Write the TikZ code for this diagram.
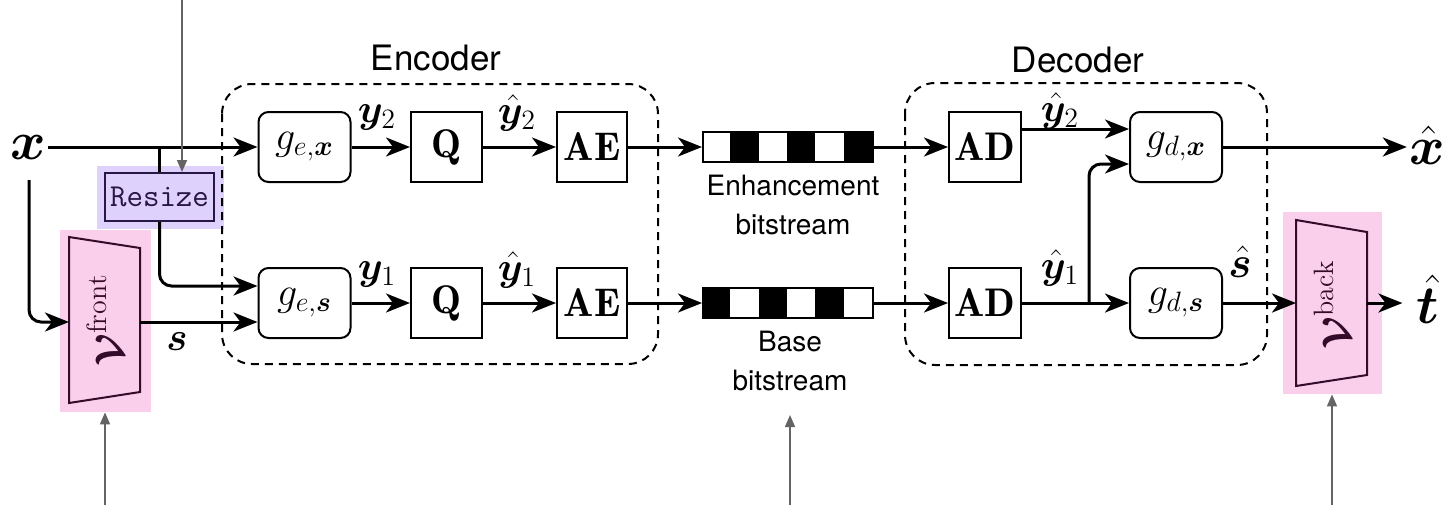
\RequirePackage{fix-cm}
\documentclass[tikz,border=0pt]{standalone}
\usepackage{fontspec}
\usepackage{amsmath,bm}
\usetikzlibrary{arrows.meta,calc}
\newfontfamily\heros{TeX Gyre Heros}
\newcommand\boxfnt{\fontsize{20}{23}\selectfont}
\newcommand\labfnt{\fontsize{20}{24}\selectfont}
\newcommand\bigfnt{\fontsize{27}{31}\selectfont}
\newcommand\grpfnt{\heros\fontsize{17.5}{20}\selectfont}
\newcommand\bitfnt{\heros\fontsize{14}{19.5}\selectfont}
\newcommand\ttfnt{\ttfamily\fontsize{16}{19}\selectfont}
\definecolor{pinkhl}{RGB}{250,207,236}
\definecolor{purphl}{RGB}{222,209,251}
\definecolor{trapc}{RGB}{50,12,42}
\definecolor{resc}{RGB}{40,22,70}
\definecolor{grayarr}{RGB}{100,100,100}
\tikzset{
  box/.style={draw, line width=1pt, minimum height=35pt, inner sep=0pt, font=\boxfnt},
  gbox/.style={box, rounded corners=5pt, minimum width=46pt},
  sqbox/.style={box, minimum width=35.5pt},
  bitbox/.style={draw, line width=1pt, minimum width=85pt, minimum height=15pt, inner sep=0pt},
  lab/.style={font=\labfnt, inner sep=0pt},
  biglab/.style={font=\bigfnt, inner sep=1pt},
  arr/.style={line width=1.5pt, -{Stealth[length=12pt,width=9.5pt,inset=3.5pt]}},
  wire/.style={line width=1.5pt},
  garr/.style={draw=grayarr, line width=0.8pt, -{Triangle[length=6pt,width=5pt]}},
  grp/.style={draw, line width=1pt, dash pattern=on 4pt off 3pt, rounded corners=15pt},
  grplab/.style={font=\grpfnt, inner sep=0pt},
  bitlab/.style={font=\bitfnt, align=center, inner sep=0pt},
  hl/.style={inner sep=0pt, draw=none},
  trap/.style={draw=trapc, line width=1pt}
}
\begin{document}
\begin{tikzpicture}[x=0.5pt,y=-0.5pt]
\useasboundingbox (0,0) rectangle (1449,505);

% highlights (behind)
\node[hl, fill=pinkhl, minimum width=45.5pt, minimum height=91pt] (vfhl) at (105.5,321) {};
\node[hl, fill=pinkhl, minimum width=49.5pt, minimum height=91pt] (vbhl) at (1332.5,303) {};
\node[hl, fill=purphl, minimum width=63.5pt, minimum height=31.5pt] (rshl) at (160.5,197.5) {};

% group boxes
\draw[grp] (222,84) rectangle (658,364);
\draw[grp] (905,83) rectangle (1267,365);
\node[grplab] (enclab) at (436,58) {Encoder};
\node[grplab] (declab) at (1078,60) {Decoder};

% encoder blocks
\node[gbox] (gex) at (304.5,147) {$g_{e,\bm{x}}$};
\node[gbox] (ges) at (304.5,303) {$g_{e,\bm{s}}$};
\node[sqbox] (q2) at (446.5,147) {$\mathbf{Q}$};
\node[sqbox] (q1) at (446.5,303) {$\mathbf{Q}$};
\node[sqbox, minimum width=35pt] (ae2) at (592,147) {$\mathbf{AE}$};
\node[sqbox, minimum width=35pt] (ae1) at (592,303) {$\mathbf{AE}$};

% bitstreams
\node[bitbox] (bits2) at (788,147) {};
\node[bitbox] (bits1) at (788,303) {};
\foreach \i in {1,3,5}
  \fill ([xshift=\i*14.1667pt]bits2.south west) rectangle ([xshift=(\i+1)*14.1667pt]bits2.north west);
\foreach \i in {0,2,4}
  \fill ([xshift=\i*14.1667pt]bits1.south west) rectangle ([xshift=(\i+1)*14.1667pt]bits1.north west);
\node[bitlab] (enhlab) at (793,205) {Enhancement\\bitstream};
\node[bitlab] (baselab) at (790,361) {Base\\bitstream};

% decoder blocks
\node[sqbox, minimum width=36pt] (ad2) at (985,147) {$\mathbf{AD}$};
\node[sqbox, minimum width=36pt] (ad1) at (985,303) {$\mathbf{AD}$};
\node[gbox] (gdx) at (1176,147) {$g_{d,\bm{x}}$};
\node[gbox] (gds) at (1176,303) {$g_{d,\bm{s}}$};

% resize
\node[draw=resc, line width=1pt, fill=purphl, minimum width=54.5pt, minimum height=24pt, inner sep=0pt, font=\ttfnt, text=resc] (resize) at (159.5,197) {Resize};

% trapezoids
\draw[trap] (69,237) -- (140,248) -- (140,392) -- (69,403) -- cycle;
\node[rotate=90, font=\labfnt, text=trapc, inner sep=0pt] (vfront) at (105,320) {$\bm{\mathcal{V}}^{\mathrm{front}}$};
\draw[trap] (1296,220) -- (1367,232) -- (1367,375) -- (1296,386) -- cycle;
\node[rotate=90, font=\labfnt, text=trapc, inner sep=0pt] (vback) at (1332,305) {$\bm{\mathcal{V}}^{\mathrm{back}}$};
\coordinate (vfl) at (69,322);
\coordinate (vfr) at (140,322);
\coordinate (vbl) at (1296,303);
\coordinate (vbr) at (1367,303);

% labels
\node[biglab] (xlab) at (28,147) {$\bm{x}$};
\node[biglab] (xhat) at (1427,145) {$\bm{\hat{x}}$};
\node[biglab] (that) at (1428,299) {$\bm{\hat{t}}$};
\node[lab] (slab) at (177,342) {$\bm{s}$};
\node[lab] (y2lab) at (377,117) {$\bm{y}_2$};
\node[lab] (y2hlab) at (517,113) {$\bm{\hat{y}}_2$};
\node[lab] (y1lab) at (377,274) {$\bm{y}_1$};
\node[lab] (y1hlab) at (517,270) {$\bm{\hat{y}}_1$};
\node[lab] (dy2lab) at (1060,111) {$\bm{\hat{y}}_2$};
\node[lab] (dy1lab) at (1060,268) {$\bm{\hat{y}}_1$};
\node[lab, font=\fontsize{22}{26}\selectfont] (shlab) at (1240,262) {$\bm{\hat{s}}$};

% encoder connectors
\draw[arr] (xlab.east) -- (gex.west);
\draw[wire] (resize.north |- gex.west) -- (resize.north);
\draw[arr, rounded corners=6pt] (resize.south) |- ($(ges.west)+(0,-17)$);
\coordinate (xd) at (29,180);
\draw[arr, rounded corners=6pt] (xd) |- (vfl);
\draw[arr] (vfr) -- ($(ges.west)+(0,19)$);
\draw[arr] (gex.east) -- (q2.west);
\draw[arr] (q2.east) -- (ae2.west);
\draw[arr] (ges.east) -- (q1.west);
\draw[arr] (q1.east) -- (ae1.west);
\draw[arr] (ae2.east) -- (bits2.west);
\draw[arr] (ae1.east) -- (bits1.west);
\draw[arr] (bits2.east) -- (ad2.west);
\draw[arr] (bits1.east) -- (ad1.west);

% decoder connectors
\draw[arr] ($(ad2.east)+(0,-18)$) -- ($(gdx.west)+(0,-18)$);
\draw[arr] (ad1.east) -- (gds.west);
\coordinate (dbr) at (1089,303);
\draw[arr, rounded corners=6pt] (dbr) |- ($(gdx.west)+(0,17)$);
\draw[arr] (gdx.east) -- (xhat.west |- gdx.east);
\draw[arr] (gds.east) -- (vbl);
\draw[arr] (vbr) -- ([xshift=-6pt]that.west |- vbr);

% gray annotation arrows
\coordinate (gtop) at (182,0);
\draw[garr] (gtop) -- (gtop |- resize.north);
\coordinate (gbl) at (105,505);
\draw[garr] (gbl) -- (gbl |- vfhl.south);
\coordinate (gbm) at (790,505);
\draw[garr] (gbm) -- (790,415);
\coordinate (gbr) at (1332,505);
\draw[garr] (gbr) -- (gbr |- vbhl.south);
\end{tikzpicture}
\end{document}
